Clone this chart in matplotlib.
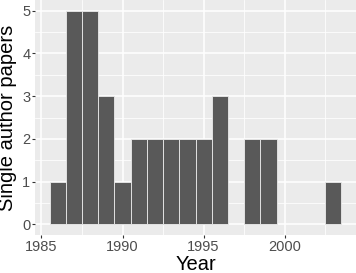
import matplotlib.pyplot as plt
import numpy as np

years = [1986, 1987, 1988, 1989, 1990, 1991, 1992, 1993, 1994, 1995,
         1996, 1998, 1999, 2003]
counts = [1, 5, 5, 3, 1, 2, 2, 2, 2, 2, 3, 2, 2, 1]
x_ticks = [1985, 1990, 1995, 2000]
y_ticks = [0, 1, 2, 3, 4, 5]

plt.rcParams['font.family'] = ['Liberation Sans', 'DejaVu Sans']

fig = plt.figure(figsize=(3.56, 2.73), dpi=100)
ax = fig.add_axes([35 / 356, 38 / 273, 321 / 356, 235 / 273])
ax.set_facecolor('#EBEBEB')

ax.bar(years, counts, width=1.0, color='#595959', edgecolor='#EBEBEB',
       linewidth=0.6, zorder=3)

ax.set_xlim(1984.6, 2004.4)
ax.set_ylim(-0.25, 5.25)
ax.set_xticks(x_ticks)
ax.set_yticks(y_ticks)
ax.set_xticks(np.arange(1987.5, 2004, 5), minor=True)
ax.set_yticks(np.arange(0.5, 5.5, 1), minor=True)
ax.grid(which='major', color='white', linewidth=1.1, zorder=0)
ax.grid(which='minor', color='white', linewidth=0.55, zorder=0)
ax.set_axisbelow(True)
for s in ax.spines.values():
    s.set_visible(False)

ax.tick_params(which='major', length=2.2, width=0.8, color='#333333',
               labelsize=10.5, labelcolor='#4D4D4D', pad=1.2)
ax.tick_params(which='minor', length=0)

ax.set_xlabel('Year', fontsize=14.5, labelpad=1.0)
ax.set_ylabel('Single author papers', fontsize=14.5)
ax.yaxis.set_label_coords(-17.5 / 321, 0.5)

fig.savefig('out.png', dpi=100)
